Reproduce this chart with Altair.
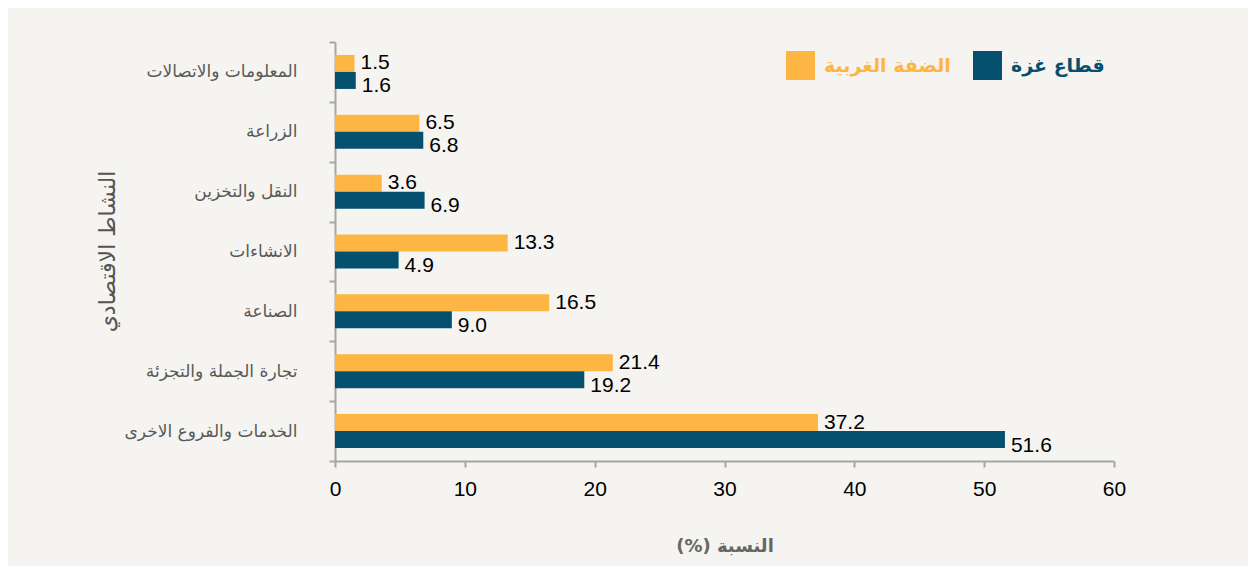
import altair as alt
import pandas as pd

activities = [
    "المعلومات والاتصالات",
    "الزراعة",
    "النقل والتخزين",
    "الانشاءات",
    "الصناعة",
    "تجارة الجملة والتجزئة",
    "الخدمات والفروع الاخرى",
]
series_names = ["الضفة الغربية", "قطاع غزة"]
west_bank = [1.5, 6.5, 3.6, 13.3, 16.5, 21.4, 37.2]
gaza = [1.6, 6.8, 6.9, 4.9, 9.0, 19.2, 51.6]
x_ticks = [0, 10, 20, 30, 40, 50, 60]
colors = ["#fdb643", "#06506f"]

rows = []
for a, w, g in zip(activities, west_bank, gaza):
    rows.append({"activity": a, "series": series_names[0], "value": w})
    rows.append({"activity": a, "series": series_names[1], "value": g})
df = pd.DataFrame(rows)

AR_FONT = "DejaVu Sans"
NUM_FONT = "Liberation Sans"
RLE, PDF = "\u202b", "\u202c"

y_enc = alt.Y(
    "activity:N",
    sort=activities,
    scale=alt.Scale(paddingInner=0, paddingOuter=0),
    axis=alt.Axis(
        title=RLE + "النشاط الاقتصادي" + PDF,
        titleFont=AR_FONT,
        titleFontSize=22,
        titleFontWeight="normal",
        titleColor="#555555",
        titleAngle=270,
        titleAlign="center",
        titleBaseline="middle",
        titleX=-228,
        titleY=209,
        labelFont=AR_FONT,
        labelFontSize=17,
        labelColor="#595959",
        labelPadding=32,
        labelLimit=300,
        tickBand="extent",
        tickSize=6,
        tickWidth=2,
        tickColor="#a6a6a6",
        domainColor="#a6a6a6",
        domainWidth=2,
    ),
)
yoff_enc = alt.YOffset(
    "series:N",
    sort=series_names,
    scale=alt.Scale(domain=series_names, paddingInner=0, paddingOuter=0.76),
)
x_enc = alt.X(
    "value:Q",
    scale=alt.Scale(domain=[0, 60], nice=False),
    axis=alt.Axis(
        values=x_ticks,
        title=RLE + "النسبة (%)" + PDF,
        titleFont=AR_FONT,
        titleFontSize=18,
        titleFontWeight="bold",
        titleColor="#666666",
        titleBaseline="middle",
        titleY=85,
        labelFont=NUM_FONT,
        labelFontSize=21,
        labelColor="#000000",
        labelPadding=11,
        labelFlush=False,
        tickSize=6,
        tickWidth=2,
        tickColor="#a6a6a6",
        domainColor="#a6a6a6",
        domainWidth=2,
        grid=False,
    ),
)

bars = alt.Chart(df).mark_bar().encode(
    y=y_enc,
    yOffset=yoff_enc,
    x=x_enc,
    color=alt.Color(
        "series:N",
        sort=series_names,
        scale=alt.Scale(domain=series_names, range=colors),
        legend=alt.Legend(
            title=None,
            orient="top-right",
            offset=9,
            direction="horizontal",
            symbolType="square",
            symbolSize=841,
            symbolStrokeWidth=0,
            symbolOpacity=1,
            labelFont=AR_FONT,
            labelFontSize=19,
            labelFontWeight="bold",
            labelColor={"expr": "datum.label == 'قطاع غزة' ? '#06506f' : '#fdb643'"},
            labelOffset=9,
            columnPadding=22,
            padding=0,
            labelLimit=300,
        ),
    ),
)

wb_labels = alt.Chart(df).transform_filter(
    alt.datum.series == series_names[0]
).mark_text(align="left", baseline="middle", dx=6, dy=0, font=NUM_FONT, fontSize=21, color="#000000").encode(
    y=alt.Y("activity:N", sort=activities),
    yOffset=alt.YOffset("series:N", sort=series_names),
    x="value:Q",
    text=alt.Text("value:Q", format=".1f"),
)
gz_labels = alt.Chart(df).transform_filter(
    alt.datum.series == series_names[1]
).mark_text(align="left", baseline="middle", dx=6, dy=6, font=NUM_FONT, fontSize=21, color="#000000").encode(
    y=alt.Y("activity:N", sort=activities),
    yOffset=alt.YOffset("series:N", sort=series_names),
    x="value:Q",
    text=alt.Text("value:Q", format=".1f"),
)

chart = alt.layer(bars, wb_labels, gz_labels).properties(
    width=779,
    height=419,
    background="#f5f4f0",
    padding={"left": 327, "top": 34, "right": 134, "bottom": 105},
    autosize=alt.AutoSizeParams(type="none"),
).configure_view(stroke=None)

chart.save("out.html", embed_options={"renderer": "svg", "actions": False})
